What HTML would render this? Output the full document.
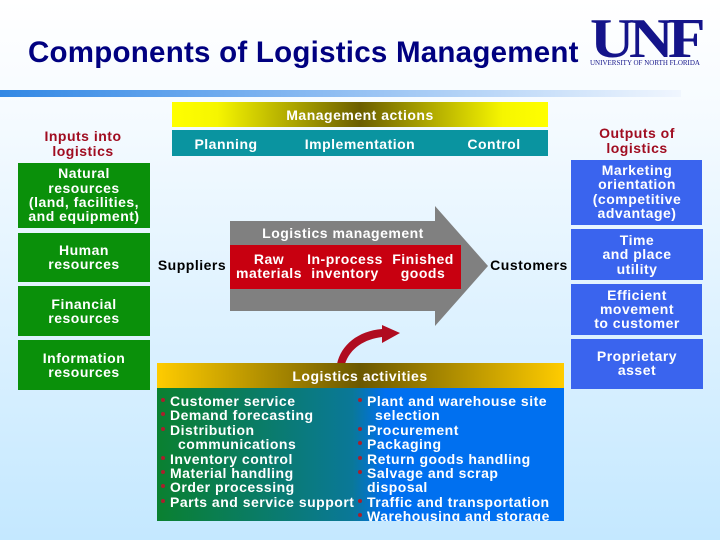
<!DOCTYPE html>
<html><head><meta charset="utf-8"><style>
html,body{margin:0;padding:0;width:720px;height:540px;overflow:hidden;background:#fff}
svg{display:block}
text{font-family:"Liberation Sans",sans-serif;font-weight:bold;font-size:14px;letter-spacing:.5px;fill:#fff}
.c{text-anchor:middle}
.h{fill:#a00c20}
.k{fill:#000}
</style></head><body>
<svg width="720" height="540" viewBox="0 0 720 540" xmlns="http://www.w3.org/2000/svg">
<defs>
<linearGradient id="bg" x1="0" y1="0" x2="0" y2="1"><stop offset="0" stop-color="#fff"/><stop offset=".2" stop-color="#f6fbff"/><stop offset="1" stop-color="#c4e8ff"/></linearGradient>
<linearGradient id="bar" x1="0" y1="0" x2="1" y2="0"><stop offset="0" stop-color="#3388e4"/><stop offset=".3" stop-color="#6aa8ee"/><stop offset="1" stop-color="#f0f6fe"/></linearGradient>
<linearGradient id="yl" x1="0" y1="0" x2="1" y2="0"><stop offset="0" stop-color="#ffff00"/><stop offset=".12" stop-color="#f6f600"/><stop offset=".5" stop-color="#6b5e00"/><stop offset=".88" stop-color="#f6f600"/><stop offset="1" stop-color="#ffff00"/></linearGradient>
<linearGradient id="or" x1="0" y1="0" x2="1" y2="0"><stop offset="0" stop-color="#ffcc00"/><stop offset=".5" stop-color="#6b5800"/><stop offset="1" stop-color="#ffcc00"/></linearGradient>
<linearGradient id="gb" x1="0" y1="0" x2="1" y2="0"><stop offset="0" stop-color="#0a8030"/><stop offset=".48" stop-color="#0a7898"/><stop offset=".56" stop-color="#0070f0"/><stop offset="1" stop-color="#0070f0"/></linearGradient>
<clipPath id="cl"><rect x="157" y="388" width="407" height="133"/></clipPath>
</defs>
<rect width="720" height="540" fill="url(#bg)"/>
<text x="28" y="62" style="font-size:29.5px;letter-spacing:.24px;fill:#000080">Components of Logistics Management</text>
<text x="590" y="57" style="font-family:'Liberation Serif',serif;font-size:56px;letter-spacing:-5px;fill:#14148a" textLength="110" lengthAdjust="spacingAndGlyphs">UNF</text>
<text x="590" y="65" style="font-family:'Liberation Serif',serif;font-weight:normal;font-size:7px;letter-spacing:0;fill:#14148a" textLength="110" lengthAdjust="spacingAndGlyphs">UNIVERSITY OF NORTH FLORIDA</text>
<rect x="0" y="90" width="681" height="7" fill="url(#bar)"/>

<rect x="172" y="102" width="376" height="25" fill="url(#yl)"/>
<text class="c" x="360" y="120">Management actions</text>
<rect x="172" y="130" width="376" height="26" fill="#0a94a0"/>
<text class="c" x="226" y="149">Planning</text>
<text class="c" x="360" y="149">Implementation</text>
<text class="c" x="494" y="149">Control</text>

<text class="c h" x="83" y="141">Inputs into</text>
<text class="c h" x="83" y="156">logistics</text>
<g fill="#0a900a">
<rect x="18" y="163" width="132" height="65"/>
<rect x="18" y="233" width="132" height="49"/>
<rect x="18" y="286" width="132" height="50"/>
<rect x="18" y="340" width="132" height="50"/>
</g>
<g text-anchor="middle">
<text x="84" y="178">Natural</text>
<text x="84" y="193">resources</text>
<text x="84" y="207">(land, facilities,</text>
<text x="84" y="221">and equipment)</text>
<text x="84" y="255">Human</text>
<text x="84" y="269">resources</text>
<text x="84" y="309">Financial</text>
<text x="84" y="323">resources</text>
<text x="84" y="363">Information</text>
<text x="84" y="377">resources</text>
</g>

<text class="c h" x="637" y="138">Outputs of</text>
<text class="c h" x="637" y="153">logistics</text>
<g fill="#3a64ee">
<rect x="571" y="160" width="131" height="65"/>
<rect x="571" y="229" width="132" height="51"/>
<rect x="571" y="284" width="131" height="51"/>
<rect x="571" y="339" width="132" height="50"/>
</g>
<g text-anchor="middle">
<text x="637" y="175">Marketing</text>
<text x="637" y="189">orientation</text>
<text x="637" y="204">(competitive</text>
<text x="637" y="218">advantage)</text>
<text x="637" y="245">Time</text>
<text x="637" y="259">and place</text>
<text x="637" y="274">utility</text>
<text x="637" y="300">Efficient</text>
<text x="637" y="314">movement</text>
<text x="637" y="328">to customer</text>
<text x="637" y="361">Proprietary</text>
<text x="637" y="375">asset</text>
</g>

<polygon points="230,221 435,221 435,206 488,266 435,326 435,311 230,311" fill="#808080"/>
<rect x="230" y="245" width="231" height="44" fill="#c80010"/>
<text class="c" x="343" y="238">Logistics management</text>
<text class="c" x="269" y="264">Raw</text>
<text class="c" x="269" y="278">materials</text>
<text class="c" x="345" y="264">In-process</text>
<text class="c" x="345" y="278">inventory</text>
<text class="c" x="423" y="264">Finished</text>
<text class="c" x="423" y="278">goods</text>
<text class="c k" x="192" y="270">Suppliers</text>
<text class="c k" x="529" y="270">Customers</text>

<path d="M337,364 C341,345 358,331 382,329 L382,325 L400,333 L382,343 L382,337 C365,339 350,348 345,364 Z" fill="#b00c20"/>

<rect x="157" y="363" width="407" height="25" fill="url(#or)"/>
<text class="c" x="360" y="381">Logistics activities</text>
<rect x="157" y="388" width="407" height="133" fill="url(#gb)"/>
<g clip-path="url(#cl)">
<text x="170" y="406">Customer service</text>
<text x="170" y="420">Demand forecasting</text>
<text x="170" y="435">Distribution</text>
<text x="178" y="449">communications</text>
<text x="170" y="464">Inventory control</text>
<text x="170" y="478">Material handling</text>
<text x="170" y="492">Order processing</text>
<text x="170" y="507">Parts and service support</text>
<text x="367" y="406">Plant and warehouse site</text>
<text x="375" y="420">selection</text>
<text x="367" y="435">Procurement</text>
<text x="367" y="449">Packaging</text>
<text x="367" y="464">Return goods handling</text>
<text x="367" y="478">Salvage and scrap</text>
<text x="367" y="492">disposal</text>
<text x="367" y="507">Traffic and transportation</text>
<text x="367" y="521">Warehousing and storage</text>
<g fill="#a8202c">
<circle cx="163" cy="400" r="2"/><circle cx="163" cy="414" r="2"/><circle cx="163" cy="429" r="2"/><circle cx="163" cy="458" r="2"/><circle cx="163" cy="472" r="2"/><circle cx="163" cy="486" r="2"/><circle cx="163" cy="501" r="2"/>
<circle cx="360" cy="400" r="2"/><circle cx="360" cy="429" r="2"/><circle cx="360" cy="443" r="2"/><circle cx="360" cy="458" r="2"/><circle cx="360" cy="472" r="2"/><circle cx="360" cy="501" r="2"/><circle cx="360" cy="515" r="2"/>
</g>
</g>
</svg>
</body></html>
